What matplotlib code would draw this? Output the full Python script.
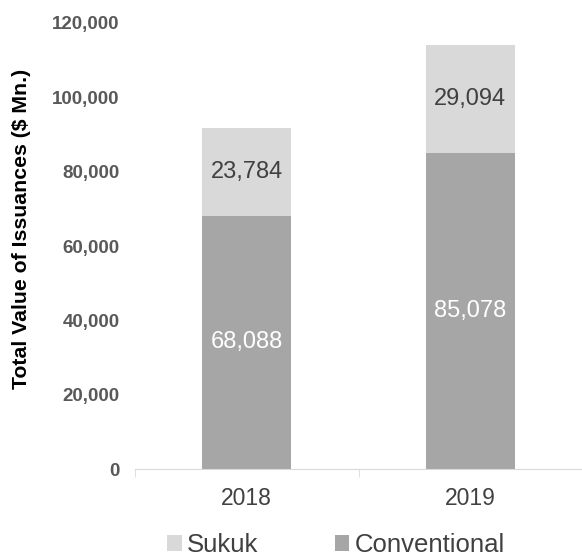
import matplotlib.pyplot as plt
from matplotlib.ticker import FuncFormatter

plt.rcParams['font.family'] = ['Liberation Sans', 'DejaVu Sans']

years = ['2018', '2019']
conventional = [68088, 85078]
sukuk = [23784, 29094]
y_ticks = [0, 20000, 40000, 60000, 80000, 100000, 120000]

fig = plt.figure(figsize=(5.82, 5.57), dpi=100)
ax = fig.add_axes([135 / 582, 88 / 557, 447 / 582, 446 / 557])

x = list(range(len(years)))
b1 = ax.bar(x, conventional, width=0.4, color='#a6a6a6', label='Conventional')
b2 = ax.bar(x, sukuk, width=0.4, bottom=conventional, color='#d9d9d9', label='Sukuk')

# value labels inside the segments
for i in x:
    ax.text(i, conventional[i] / 2, f'{conventional[i]:,}', ha='center', va='center',
            color='white', fontsize=17)
    ax.text(i, conventional[i] + sukuk[i] / 2, f'{sukuk[i]:,}', ha='center', va='center',
            color='#404040', fontsize=17)

ax.set_xlim(-0.5, 1.487)
ax.set_ylim(0, 120000)
ax.set_yticks(y_ticks)
ax.yaxis.set_major_formatter(FuncFormatter(lambda v, p: f'{int(v):,}'))
ax.tick_params(axis='y', length=0, pad=11, labelsize=13.5, labelcolor='#595959')
for t in ax.get_yticklabels():
    t.set_fontweight('bold')

ax.set_xticks(x)
ax.set_xticklabels(years)
ax.tick_params(axis='x', which='major', length=0, pad=13, labelsize=16.5, labelcolor='#404040')
ax.set_xticks([-0.5, 0.5, 1.5], minor=True)
ax.tick_params(axis='x', which='minor', length=6, color='#d9d9d9')

for s in ['top', 'right', 'left']:
    ax.spines[s].set_visible(False)
ax.spines['bottom'].set_color('#d9d9d9')

ax.set_ylabel('Total Value of Issuances ($ Mn.)', fontsize=15.3, fontweight='bold')
ax.yaxis.set_label_coords(-0.232, 0.538)

fig.legend(handles=[b2, b1], loc='center', bbox_to_anchor=(336 / 582, 12 / 557), ncol=2,
           frameon=False, fontsize=18.5, handlelength=0.55, handleheight=0.55,
           handletextpad=0.2, columnspacing=3.0, labelcolor='#404040')

fig.savefig('out.png', dpi=100)
